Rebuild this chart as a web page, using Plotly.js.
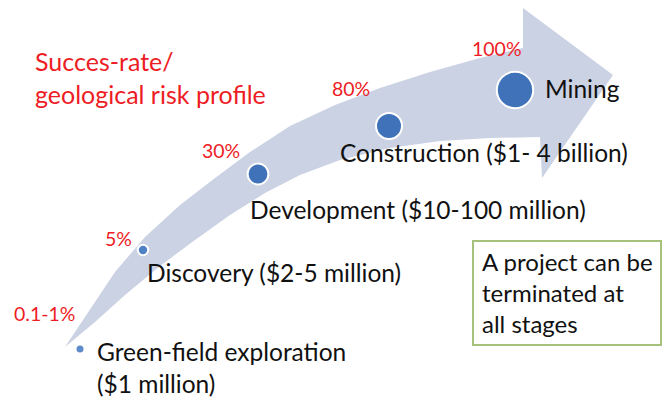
<!DOCTYPE html>
<html>
<head>
<meta charset="utf-8">
<script src="https://cdn.plot.ly/plotly-3.0.1.min.js"></script>
<style>html,body{margin:0;padding:0;background:#fff;}#chart{width:664px;height:401px;}</style>
</head>
<body>
<div id="chart"></div>
<script>
// Stages of a mining project (diagram coordinates in a 664 x 401 canvas space)
var stages = ["Green-field exploration", "Discovery", "Development", "Construction", "Mining"];
var costs = ["($1 million)", "($2-5 million)", "($10-100 million)", "($1- 4 billion)", ""];
var successRates = ["0.1-1%", "5%", "30%", "80%", "100%"];
var stageX = [80, 143, 258, 389, 515];
var stageY = [349, 250, 174, 126, 90];
var stageWeight = [1, 2, 4, 5, 7];
var noteLines = ["A project can be", "terminated at", "all stages"];
var chartTitle = ["Succes-rate/", "geological risk profile"];

// Arrow outline
var arrowX = [65, 88, 115, 145, 180, 215, 250, 290, 335, 380, 430, 480, 523, 523, 613, 542, 540, 490, 440, 390, 340, 300, 265, 230, 195, 160, 125, 95, 65];
var arrowY = [347, 313, 272, 237, 205, 178, 152, 126, 105, 88, 72, 58, 48, 8, 75, 178, 137, 138, 141, 148, 160, 175, 193, 215, 240, 266, 295, 322, 347];

var FONT = "Lato, 'Open Sans', sans-serif";
var sizes = stageWeight.map(function (w, i) { return i === 0 ? 7 : w * 5.2; });
var lineW = stageWeight.map(function (w, i) { return i === 0 ? 0 : 2; });

var traces = [
  {
    x: arrowX, y: arrowY, mode: "lines", fill: "toself",
    fillcolor: "#cad2e3", line: { width: 0, color: "rgba(0,0,0,0)" },
    hoverinfo: "skip", showlegend: false
  },
  {
    x: stageX, y: stageY, mode: "markers", type: "scatter",
    marker: { color: ["#5d8ccb", "#4f82c4", "#3f72b8", "#3f72b8", "#3f72b8"], opacity: 1, size: sizes, line: { color: "#ffffff", width: lineW } },
    text: stages, hoverinfo: "text", showlegend: false
  }
];

var ann = [];
// stage labels
var labelPos = [
  { dx: 15, dy: 3 }, { dx: 2, dy: 22 }, { dx: -10, dy: 35 }, { dx: -51, dy: 26 }, { dx: 28, dy: -2 }
];
stages.forEach(function (s, i) {
  var txt = s;
  if (i === 0) txt = s + "<br>" + costs[i];
  else if (costs[i]) txt = s + " " + costs[i];
  ann.push({
    x: stageX[i] + labelPos[i].dx, y: stageY[i] + labelPos[i].dy + (i === 0 ? 15 : 0),
    xref: "x", yref: "y", text: txt, showarrow: false,
    xanchor: "left", yanchor: "middle", align: "left",
    font: { family: FONT, size: 24.5, color: "#111111" }
  });
});
// success-rate labels
var ratePos = [
  { dx: -68, dy: -36 }, { dx: -40, dy: -12 }, { dx: -58, dy: -24 }, { dx: -59, dy: -38 }, { dx: -45, dy: -42 }
];
successRates.forEach(function (r, i) {
  ann.push({
    x: stageX[i] + ratePos[i].dx, y: stageY[i] + ratePos[i].dy,
    xref: "x", yref: "y", text: r, showarrow: false,
    xanchor: "left", yanchor: "middle",
    font: { family: FONT, size: 19.5, color: "#ee1c25" }
  });
});
// note box text
ann.push({
  x: 480, y: 292, xref: "x", yref: "y", text: noteLines.join("<br>"), showarrow: false,
  xanchor: "left", yanchor: "middle", align: "left",
  font: { family: FONT, size: 24, color: "#111111" }
});

var layout = {
  width: 664, height: 401, autosize: false,
  margin: { l: 0, r: 0, t: 0, b: 0 },
  paper_bgcolor: "#ffffff", plot_bgcolor: "#ffffff",
  title: {
    text: chartTitle.join("<br>"),
    x: 35 / 664, xref: "paper", xanchor: "left",
    y: 1 - 71 / 401, yref: "paper", yanchor: "top",
    font: { family: FONT, size: 25, color: "#ee1c25" }
  },
  xaxis: { range: [0, 664], visible: false, fixedrange: true },
  yaxis: { range: [401, 0], visible: false, fixedrange: true },
  shapes: [
    { type: "rect", xref: "x", yref: "y", x0: 473, x1: 661, y0: 241, y1: 345,
      line: { color: "#a6c17c", width: 2 }, fillcolor: "rgba(255,255,255,0)" }
  ],
  annotations: ann,
  showlegend: false
};

Plotly.newPlot("chart", traces, layout, { displayModeBar: false, staticPlot: true });
</script>
</body>
</html>
